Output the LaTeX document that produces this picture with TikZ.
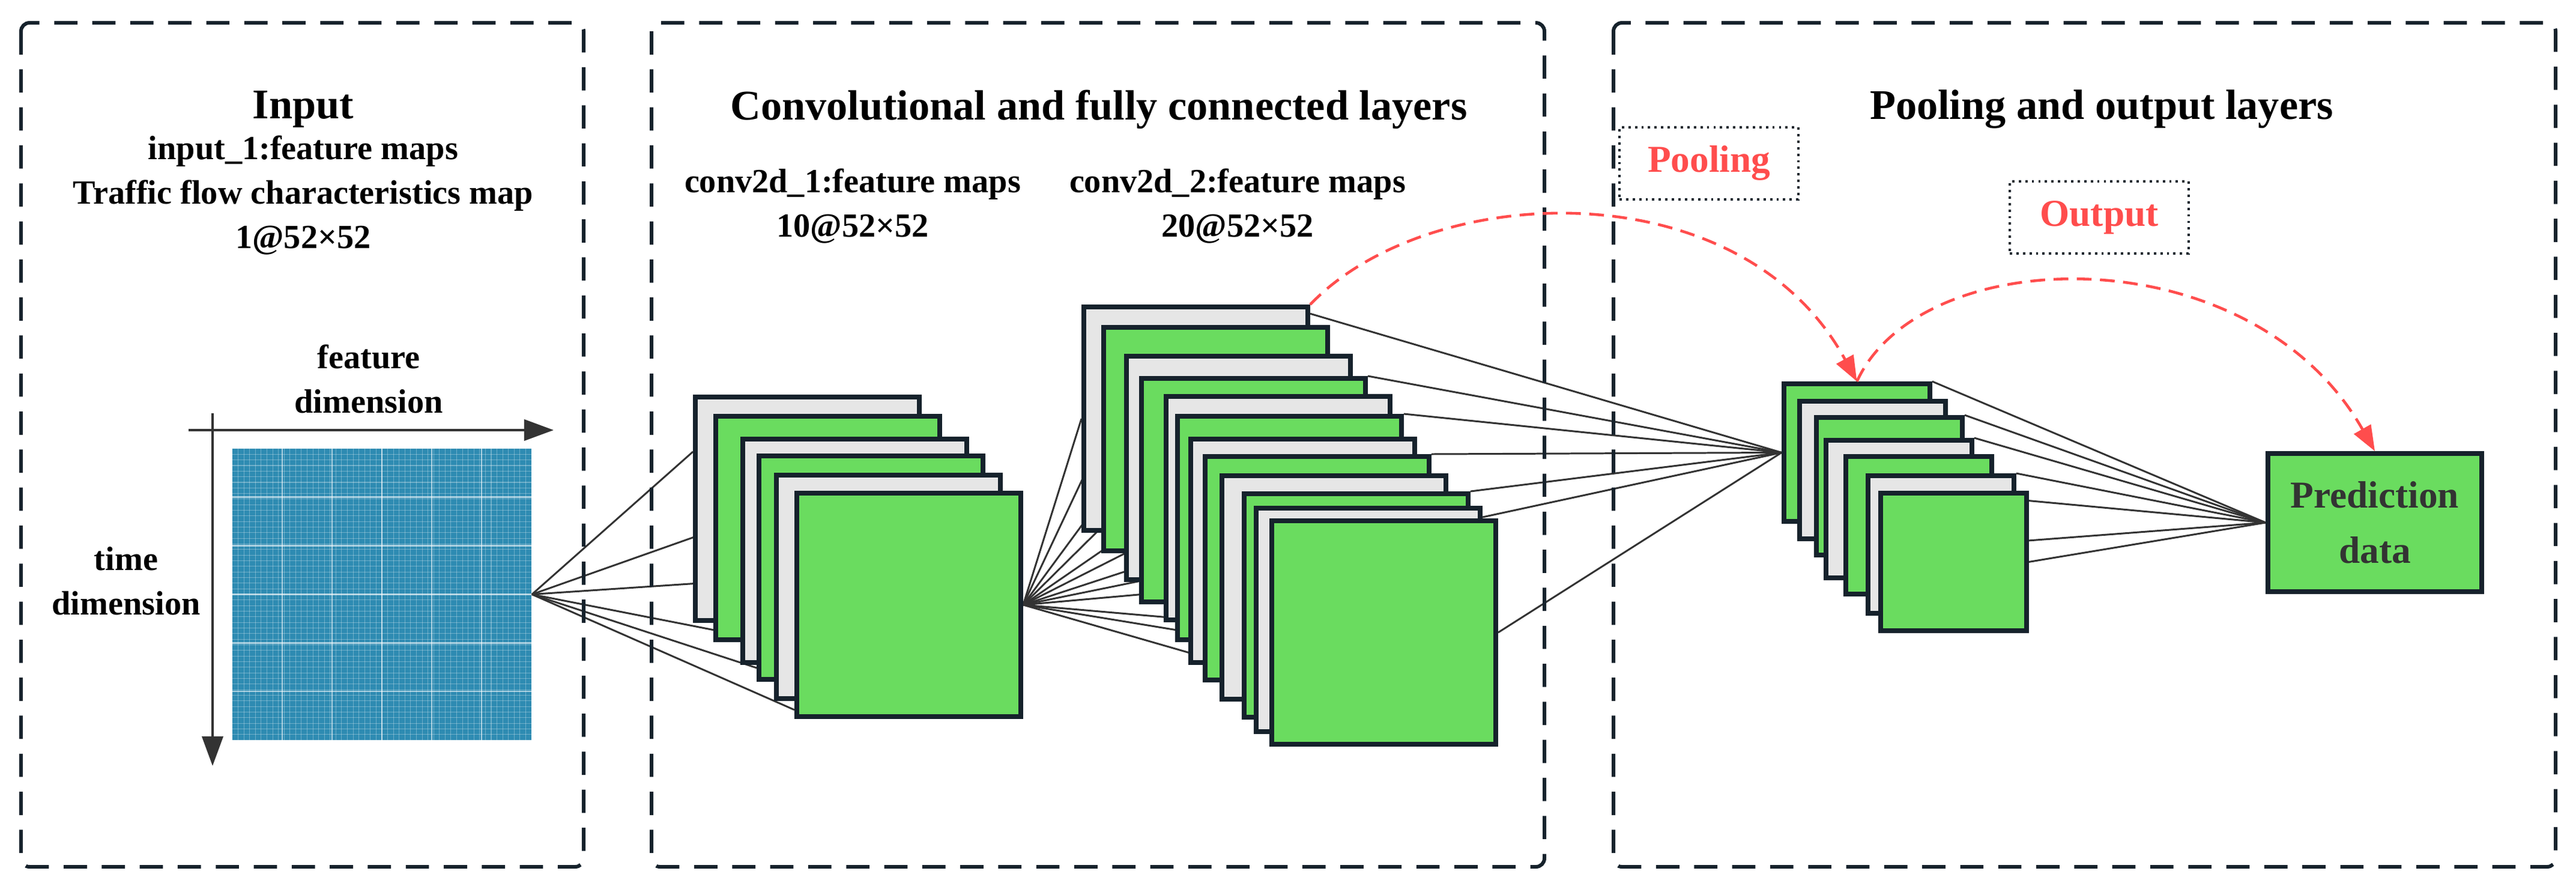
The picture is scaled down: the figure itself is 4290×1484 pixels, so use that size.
\documentclass[tikz,border=0pt]{standalone}
\usepackage{fontspec}
\setmainfont{Liberation Serif}
\usetikzlibrary{arrows.meta,calc}
\definecolor{gr}{HTML}{6ADC5F}
\definecolor{gy}{HTML}{E6E6E6}
\definecolor{bd}{HTML}{16222C}
\definecolor{ln}{HTML}{333333}
\definecolor{rd}{HTML}{FF4D4D}
\definecolor{bl}{HTML}{2E8BB2}
\pgfdeclarelayer{bg}
\pgfsetlayers{bg,main}
\tikzset{
 panel/.style={draw=bd,line width=1.7pt,dash pattern=on 11pt off 7pt,rounded corners=4pt},
 fm/.style={draw=bd,line width=2.2pt,anchor=north west,inner sep=0pt,minimum width=3.73cm,minimum height=3.72cm},
 pm/.style={draw=bd,line width=2.2pt,anchor=north west,inner sep=0pt,minimum width=2.43cm,minimum height=2.29cm},
 G/.style={fill=gr}, Y/.style={fill=gy},
 con/.style={draw=ln,line width=0.85pt},
 ttl/.style={font=\fontsize{20}{24}\selectfont\bfseries,text=black},
 sub/.style={font=\fontsize{16}{21}\selectfont\bfseries,text=black,align=center},
 red/.style={draw=rd,line width=1.3pt,dash pattern=on 7pt off 4pt,-{Triangle[length=12pt,width=9pt]}},
 lab/.style={draw=bd,line width=1.1pt,dotted,text=rd,font=\fontsize{18}{22}\selectfont\bfseries,minimum width=2.98cm,minimum height=1.2cm},
 ax/.style={draw=ln,line width=1.1pt,-{Triangle[length=14pt,width=10pt]}}
}
\begin{document}
\begin{tikzpicture}[x=0.01cm,y=-0.01cm]
\useasboundingbox (0,0) rectangle (4290,1484);
% panels
\draw[panel] (35,38) rectangle (972,1443);
\draw[panel] (1085,38) rectangle (2572,1443);
\draw[panel] (2687,38) rectangle (4256,1443);
% titles
\node[ttl] (t1) at (505,182) {Input};
\node[ttl] (t2) at (1830,182) {Convolutional and fully connected layers};
\node[ttl] (t3) at (3500,182) {Pooling and output layers};
\node[sub] (s1) at (505,325) {input\_1:feature maps\\Traffic flow characteristics map\\1@52×52};
\node[sub] (s2) at (1420,343) {conv2d\_1:feature maps\\10@52×52};
\node[sub] (s3) at (2061,343) {conv2d\_2:feature maps\\20@52×52};
\node[sub] (fd) at (614,631) {feature\\dimension};
\node[sub] (td) at (210,967) {time\\dimension};
% grid
\node[fill=bl,inner sep=0pt,minimum width=4.98cm,minimum height=4.85cm] (grid) at (636,989.5) {};
\foreach \i in {1,...,51}{
 \draw[white,opacity=0.3,line width=0.3pt] ({387+\i*9.577},747) -- ({387+\i*9.577},1232);
 \draw[white,opacity=0.3,line width=0.3pt] (387,{747+\i*9.327}) -- (885,{747+\i*9.327});}
\foreach \i in {1,...,5}{
 \draw[white,opacity=0.6,line width=0.8pt] ({387+\i*83},747) -- ({387+\i*83},1232);
 \draw[white,opacity=0.6,line width=0.8pt] (387,{747+\i*80.8}) -- (885,{747+\i*80.8});}
% axes
\coordinate (ha) at (314,716); \coordinate (hb) at (922,716);
\coordinate (va) at (354,688); \coordinate (vb) at (354,1275);
\draw[ax] (ha) -- (hb);
\draw[ax] (va) -- (vb);
% stack 1
\node[fm,Y] (a1) at (1154,657) {};
\node[fm,G] (a2) at (1188,689) {};
\node[fm,Y] (a3) at (1233,727) {};
\node[fm,G] (a4) at (1260,755) {};
\node[fm,Y] (a5) at (1289,787) {};
\node[fm,G] (a6) at (1323,817) {};
% stack 2
\node[fm,Y] (b1) at (1801,507) {};
\node[fm,G] (b2) at (1834,541) {};
\node[fm,Y] (b3) at (1872,589) {};
\node[fm,G] (b4) at (1897,626) {};
\node[fm,Y] (b5) at (1938,656) {};
\node[fm,G] (b6) at (1957,689) {};
\node[fm,Y] (b7) at (1979,727) {};
\node[fm,G] (b8) at (2003,756) {};
\node[fm,Y] (b9) at (2031,788) {};
\node[fm,G] (b10) at (2068,818) {};
\node[fm,Y] (b11) at (2088,842) {};
\node[fm,G] (b12) at (2114,863) {};
% pooling stack
\node[pm,G] (p1) at (2967,635) {};
\node[pm,Y] (p2) at (2993,664) {};
\node[pm,G] (p3) at (3021,691) {};
\node[pm,Y] (p4) at (3037,729) {};
\node[pm,G] (p5) at (3070,756) {};
\node[pm,Y] (p6) at (3107,788) {};
\node[pm,G] (p7) at (3128,817) {};
% prediction
\node[draw=bd,line width=2.2pt,fill=gr,inner sep=0pt,minimum width=3.56cm,minimum height=2.3cm,align=center,text=ln,font=\fontsize{18}{26}\selectfont\bfseries] (pred) at (3955,870) {Prediction\\data};
% connectors
\begin{pgfonlayer}{bg}
\draw[con] (grid.east) -- ($(a1.north west)!0.25!(a1.south west)$);
\draw[con] (grid.east) -- ($(a2.north west)!0.51!(a2.south west)$);
\draw[con] (grid.east) -- ($(a3.north west)!0.63!(a3.south west)$);
\draw[con] (grid.east) -- ($(a4.north west)!0.81!(a4.south west)$);
\draw[con] (grid.east) -- ($(a5.north west)!0.88!(a5.south west)$);
\draw[con] (grid.east) -- ($(a6.north west)!0.96!(a6.south west)$);
\foreach \n in {b1,b2,b3,b4,b5,b6,b7,b8,b9}{\draw[con] (a6.east) -- (\n.west);}
\draw[con] (a6.east) -- ($(b10.north west)!0.58!(b10.south west)$);
\draw[con] (a6.east) -- ($(b11.north west)!0.6!(b11.south west)$);
\draw[con] (a6.east) -- ($(b12.north west)!0.69!(b12.south west)$);
\draw[con] ($(b1.north east)!0.04!(b1.south east)$) -- (p1.west);
\foreach \n in {b4,b6,b8,b10}{\draw[con] (\n.north east) -- (p1.west);}
\draw[con] ($(b11.north east)!0.05!(b11.south east)$) -- (p1.west);
\draw[con] (b12.east) -- (p1.west);
\foreach \n in {p1,p3,p4,p6}{\draw[con] (\n.north east) -- (pred.west);}
\draw[con] ($(p7.north east)!0.07!(p7.south east)$) -- (pred.west);
\draw[con] ($(p7.north east)!0.35!(p7.south east)$) -- (pred.west);
\draw[con] (p7.east) -- (pred.west);
\end{pgfonlayer}
% labels and red arrows
\node[lab] (pl) at (2846,272) {Pooling};
\node[lab] (ol) at (3496,362) {Output};
\draw[red] (b1.north east) .. controls (2380,300) and (2900,280) .. (p1.north);
\draw[red] (p1.north) .. controls (3200,400) and (3750,390) .. (pred.north);
\end{tikzpicture}
\end{document}
